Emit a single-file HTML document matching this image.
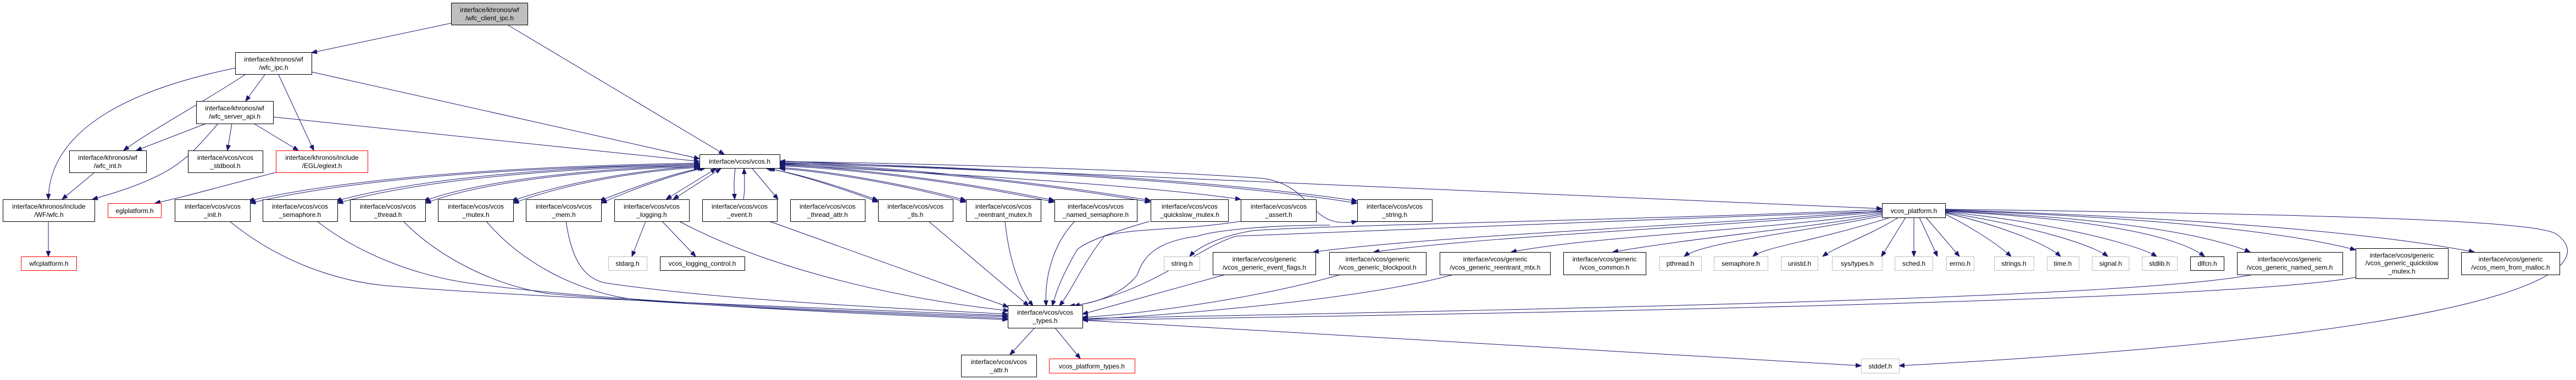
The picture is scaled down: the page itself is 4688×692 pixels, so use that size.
<!DOCTYPE html>
<html><head><meta charset="utf-8"><style>
html,body{margin:0;padding:0;background:#fff;}
svg{display:block;}
text{font-family:"Liberation Sans",sans-serif;font-size:12px;fill:#000;text-anchor:middle;}
.n{fill:#fff;stroke:#000;stroke-width:1;}
.g{fill:#fff;stroke:#bfbfbf;stroke-width:1;}
.r{fill:#fff;stroke:#ff0000;stroke-width:1;}
.e{fill:none;stroke:#191970;stroke-width:1;marker-end:url(#a);}
.d{fill:none;stroke:#191970;stroke-width:1;marker-end:url(#a);marker-start:url(#b);}
</style></head><body>
<svg width="4688" height="692" viewBox="0 0 4688 692" xmlns="http://www.w3.org/2000/svg">
<defs>
<marker id="a" markerWidth="11" markerHeight="8" refX="10" refY="4" orient="auto" markerUnits="userSpaceOnUse"><path d="M0,0 L10,4 L0,8 z" fill="#191970" stroke="#191970"/></marker>
<marker id="b" markerWidth="11" markerHeight="8" refX="0" refY="4" orient="auto" markerUnits="userSpaceOnUse"><path d="M10,0 L0,4 L10,8 z" fill="#191970" stroke="#191970"/></marker>
</defs>

<!-- edges top -->
<path class="e" d="M822,42 L567,96"/>
<path class="e" d="M925,46 L1318,281"/>
<path class="e" d="M428,124 C250,160 90,230 88,363"/>
<path class="e" d="M446,136 C380,180 270,240 225,274"/>
<path class="e" d="M482,136 L447,184"/>
<path class="e" d="M507,136 L571,274"/>
<path class="e" d="M567,131 L1273,289"/>
<path class="e" d="M375,225 L248,274"/>
<path class="e" d="M397,225 C340,290 320,320 168,363"/>
<path class="e" d="M422,225 L414,274"/>
<path class="e" d="M462,225 L543,274"/>
<path class="e" d="M497,213 L1273,294"/>
<path class="e" d="M172,314 L113,363"/>
<path class="e" d="M88,403 L88,467"/>
<path class="e" d="M502,314 C400,340 330,360 282,370"/>

<!-- vcos.h <-> children -->
<path class="d" d="M452,366 C700,310 1100,300 1273,297"/>
<path class="d" d="M455,370 C700,312 1100,302 1273,299"/>
<path class="d" d="M611,366 C800,315 1100,302 1273,299"/>
<path class="d" d="M614,370 C800,318 1100,304 1273,301"/>
<path class="d" d="M771,366 C900,320 1150,304 1273,301"/>
<path class="d" d="M774,370 C900,322 1150,306 1273,303"/>
<path class="d" d="M931,366 C1050,325 1200,306 1273,303"/>
<path class="d" d="M934,370 C1050,327 1200,308 1273,305"/>
<path class="d" d="M1091,366 C1180,330 1250,310 1280,306"/>
<path class="d" d="M1094,370 C1180,332 1250,312 1284,306"/>
<path class="d" d="M1212,363 L1303,307"/>
<path class="d" d="M1225,363 L1312,307"/>
<path class="e" d="M1338,307 C1335,330 1336,345 1337,363"/>
<path class="e" d="M1353,363 C1356,345 1355,330 1354,307"/>
<path class="e" d="M1369,307 L1416,363"/>
<path class="d" d="M1598,365 C1530,340 1450,315 1395,307"/>
<path class="d" d="M1598,368 C1530,342 1450,317 1400,307"/>
<path class="d" d="M1758,365 C1650,335 1500,310 1419,305"/>
<path class="d" d="M1758,368 C1650,337 1500,312 1419,307"/>
<path class="d" d="M1919,365 C1750,330 1550,305 1419,300"/>
<path class="d" d="M1919,368 C1750,332 1550,307 1419,302"/>
<path class="d" d="M2094,365 C1850,325 1600,302 1419,297"/>
<path class="d" d="M2094,368 C1850,327 1600,304 1419,299"/>
<path class="e" d="M1419,300 C1800,320 2100,340 2258,363"/>
<path class="d" d="M2470,366 C2200,325 1700,300 1419,296"/>
<path class="d" d="M2470,370 C2200,327 1700,302 1419,298"/>
<path class="d" d="M2470,403 C2380,420 2395,340 2300,325 C2100,310 1700,298 1419,294"/>
<path class="e" d="M1419,293 L3425,380"/>

<!-- children -> types -->
<path class="e" d="M418,403 C500,470 600,510 700,520 C1000,545 1500,560 1834,575"/>
<path class="e" d="M577,403 C650,460 750,500 850,515 C1100,550 1500,565 1834,577"/>
<path class="e" d="M734,403 C800,470 900,520 1000,535 C1300,560 1600,570 1834,580"/>
<path class="e" d="M885,403 C950,480 1050,530 1150,545 C1400,565 1650,575 1834,582"/>
<path class="e" d="M1030,403 C1040,470 1060,505 1100,515 C1300,545 1600,560 1834,572"/>
<path class="e" d="M1236,403 C1380,480 1600,540 1836,566"/>
<path class="e" d="M1400,403 L1835,559"/>
<path class="e" d="M1690,403 L1872,557"/>
<path class="e" d="M1829,403 C1835,460 1850,520 1880,557"/>
<path class="e" d="M1956,403 C1920,440 1900,500 1904,557"/>
<path class="e" d="M2092,403 C2000,430 1970,445 1960,455 C1940,490 1925,520 1915,557"/>
<path class="e" d="M2258,403 C2150,420 2060,415 2010,430 C1970,480 1950,530 1928,557"/>
<path class="e" d="M2420,410 C2300,410 2210,420 2180,430 C2100,440 2080,470 2070,500 C2040,540 1980,555 1946,557"/>
<path class="e" d="M3425,385 C3000,400 2450,420 2250,430 C2180,450 2100,530 1955,557"/>

<path class="e" d="M1175,403 L1150,467"/>
<path class="e" d="M1205,403 L1266,467"/>
<path class="e" d="M1883,597 L1838,646"/>
<path class="e" d="M1920,597 L1966,653"/>
<path class="e" d="M1970,583 L3387,666"/>

<!-- vcos_platform -> children -->
<path class="e" d="M3425,382 C3000,400 2400,410 2280,420 C2220,430 2180,450 2165,467"/>
<path class="e" d="M3425,384 C3100,410 2600,430 2390,459"/>
<path class="e" d="M3425,386 C3100,415 2700,430 2500,459"/>
<path class="e" d="M3425,388 C3200,420 2900,430 2750,459"/>
<path class="e" d="M3425,390 C3300,415 3100,430 2935,459"/>
<path class="e" d="M3430,392 C3300,420 3100,440 3065,467"/>
<path class="e" d="M3440,396 C3300,440 3210,450 3190,467"/>
<path class="e" d="M3455,396 C3400,430 3340,450 3317,467"/>
<path class="e" d="M3468,396 L3424,467"/>
<path class="e" d="M3483,396 L3483,467"/>
<path class="e" d="M3493,396 L3526,467"/>
<path class="e" d="M3505,396 L3566,467"/>
<path class="e" d="M3540,390 C3580,410 3630,440 3660,467"/>
<path class="e" d="M3540,388 C3620,405 3720,440 3750,467"/>
<path class="e" d="M3540,387 C3660,405 3800,440 3836,467"/>
<path class="e" d="M3540,386 C3700,400 3880,440 3925,467"/>
<path class="e" d="M3540,385 C3750,395 3950,420 4012,467"/>
<path class="e" d="M3540,384 C3800,395 4000,420 4095,459"/>
<path class="e" d="M3540,383 C3900,395 4150,420 4287,455"/>
<path class="e" d="M3540,382 C3950,395 4300,420 4503,459"/>
<path class="e" d="M3540,381 C4200,390 4600,400 4650,425 C4720,470 4700,600 3456,666"/>

<!-- generic -> types -->
<path class="e" d="M2230,500 L1970,572"/>
<path class="e" d="M2440,500 C2300,540 2100,570 1970,578"/>
<path class="e" d="M2645,500 C2500,540 2200,570 1970,582"/>
<path class="e" d="M4100,500 C3900,540 3000,560 1970,580"/>
<path class="e" d="M4287,505 C4100,540 3200,565 1970,583"/>

<!-- nodes -->
<rect class="n" x="821.5" y="5.5" width="139" height="40" style="fill:#bfbfbf"/>
<text x="891" y="22">interface/khronos/wf</text><text x="891" y="37">/wfc_client_ipc.h</text>
<rect class="n" x="428.5" y="95.5" width="139" height="40"/>
<text x="498" y="112">interface/khronos/wf</text><text x="498" y="127">/wfc_ipc.h</text>
<rect class="n" x="357.5" y="184.5" width="140" height="41"/>
<text x="427" y="201">interface/khronos/wf</text><text x="427" y="216">/wfc_server_api.h</text>
<rect class="n" x="126.5" y="274.5" width="140" height="40"/>
<text x="196" y="291">interface/khronos/wf</text><text x="196" y="306">/wfc_int.h</text>
<rect class="n" x="342.5" y="274.5" width="136" height="40"/>
<text x="410" y="291">interface/vcos/vcos</text><text x="410" y="306">_stdbool.h</text>
<rect class="r" x="502.5" y="274.5" width="167" height="40"/>
<text x="586" y="291">interface/khronos/include</text><text x="586" y="306">/EGL/eglext.h</text>
<rect class="n" x="5.5" y="363.5" width="167" height="40"/>
<text x="89" y="380">interface/khronos/include</text><text x="89" y="395">/WF/wfc.h</text>
<rect class="r" x="196.5" y="370.5" width="97" height="26"/>
<text x="245" y="388">eglplatform.h</text>
<rect class="r" x="38.5" y="467.5" width="101" height="25"/>
<text x="89" y="484">wfcplatform.h</text>

<rect class="n" x="1273.5" y="281.5" width="146" height="25"/>
<text x="1346" y="298">interface/vcos/vcos.h</text>

<rect class="n" x="318.5" y="363.5" width="137" height="40"/><text x="387" y="380">interface/vcos/vcos</text><text x="387" y="395">_init.h</text>
<rect class="n" x="478.5" y="363.5" width="136" height="40"/><text x="546" y="380">interface/vcos/vcos</text><text x="546" y="395">_semaphore.h</text>
<rect class="n" x="637.5" y="363.5" width="137" height="40"/><text x="706" y="380">interface/vcos/vcos</text><text x="706" y="395">_thread.h</text>
<rect class="n" x="797.5" y="363.5" width="137" height="40"/><text x="866" y="380">interface/vcos/vcos</text><text x="866" y="395">_mutex.h</text>
<rect class="n" x="957.5" y="363.5" width="137" height="40"/><text x="1026" y="380">interface/vcos/vcos</text><text x="1026" y="395">_mem.h</text>
<rect class="n" x="1118.5" y="363.5" width="136" height="40"/><text x="1186" y="380">interface/vcos/vcos</text><text x="1186" y="395">_logging.h</text>
<rect class="n" x="1278.5" y="363.5" width="136" height="40"/><text x="1346" y="380">interface/vcos/vcos</text><text x="1346" y="395">_event.h</text>
<rect class="n" x="1438.5" y="363.5" width="136" height="40"/><text x="1506" y="380">interface/vcos/vcos</text><text x="1506" y="395">_thread_attr.h</text>
<rect class="n" x="1598.5" y="363.5" width="136" height="40"/><text x="1666" y="380">interface/vcos/vcos</text><text x="1666" y="395">_tls.h</text>
<rect class="n" x="1758.5" y="363.5" width="136" height="40"/><text x="1826" y="380">interface/vcos/vcos</text><text x="1826" y="395">_reentrant_mutex.h</text>
<rect class="n" x="1919.5" y="363.5" width="150" height="40"/><text x="1994" y="380">interface/vcos/vcos</text><text x="1994" y="395">_named_semaphore.h</text>
<rect class="n" x="2094.5" y="363.5" width="141" height="40"/><text x="2165" y="380">interface/vcos/vcos</text><text x="2165" y="395">_quickslow_mutex.h</text>
<rect class="n" x="2258.5" y="363.5" width="137" height="40"/><text x="2327" y="380">interface/vcos/vcos</text><text x="2327" y="395">_assert.h</text>
<rect class="n" x="2470.5" y="363.5" width="136" height="40"/><text x="2538" y="380">interface/vcos/vcos</text><text x="2538" y="395">_string.h</text>

<rect class="g" x="1107.5" y="467.5" width="70" height="25"/><text x="1142" y="484">stdarg.h</text>
<rect class="n" x="1201.5" y="467.5" width="154" height="25"/><text x="1278" y="484">vcos_logging_control.h</text>

<rect class="n" x="1834.5" y="556.5" width="136" height="41"/><text x="1902" y="573">interface/vcos/vcos</text><text x="1902" y="588">_types.h</text>
<rect class="n" x="1749.5" y="646.5" width="137" height="40"/><text x="1818" y="663">interface/vcos/vcos</text><text x="1818" y="678">_attr.h</text>
<rect class="r" x="1909.5" y="653.5" width="156" height="26"/><text x="1987" y="671">vcos_platform_types.h</text>
<rect class="g" x="3387.5" y="653.5" width="69" height="26"/><text x="3422" y="671">stddef.h</text>

<rect class="n" x="3425.5" y="370.5" width="115" height="26"/><text x="3483" y="388">vcos_platform.h</text>

<rect class="g" x="2118.5" y="467.5" width="65" height="25"/><text x="2151" y="484">string.h</text>
<rect class="n" x="2207.5" y="459.5" width="187" height="41"/><text x="2301" y="476">interface/vcos/generic</text><text x="2301" y="491">/vcos_generic_event_flags.h</text>
<rect class="n" x="2419.5" y="459.5" width="176" height="41"/><text x="2507" y="476">interface/vcos/generic</text><text x="2507" y="491">/vcos_generic_blockpool.h</text>
<rect class="n" x="2620.5" y="459.5" width="201" height="41"/><text x="2721" y="476">interface/vcos/generic</text><text x="2721" y="491">/vcos_generic_reentrant_mtx.h</text>
<rect class="n" x="2845.5" y="459.5" width="150" height="41"/><text x="2920" y="476">interface/vcos/generic</text><text x="2920" y="491">/vcos_common.h</text>
<rect class="g" x="3020.5" y="467.5" width="76" height="25"/><text x="3058" y="484">pthread.h</text>
<rect class="g" x="3119.5" y="467.5" width="98" height="25"/><text x="3168" y="484">semaphore.h</text>
<rect class="g" x="3241.5" y="467.5" width="67" height="25"/><text x="3275" y="484">unistd.h</text>
<rect class="g" x="3334.5" y="467.5" width="91" height="25"/><text x="3380" y="484">sys/types.h</text>
<rect class="g" x="3448.5" y="467.5" width="69" height="25"/><text x="3483" y="484">sched.h</text>
<rect class="g" x="3542.5" y="467.5" width="50" height="25"/><text x="3567" y="484">errno.h</text>
<rect class="g" x="3629.5" y="467.5" width="72" height="25"/><text x="3665" y="484">strings.h</text>
<rect class="g" x="3725.5" y="467.5" width="58" height="25"/><text x="3754" y="484">time.h</text>
<rect class="g" x="3807.5" y="467.5" width="67" height="25"/><text x="3841" y="484">signal.h</text>
<rect class="g" x="3898.5" y="467.5" width="64" height="25"/><text x="3930" y="484">stdlib.h</text>
<rect class="n" x="3986.5" y="467.5" width="61" height="25"/><text x="4017" y="484">dlfcn.h</text>
<rect class="n" x="4071.5" y="459.5" width="192" height="41"/><text x="4167" y="476">interface/vcos/generic</text><text x="4167" y="491">/vcos_generic_named_sem.h</text>
<rect class="n" x="4287.5" y="452.5" width="168" height="55"/><text x="4371" y="469">interface/vcos/generic</text><text x="4371" y="483">/vcos_generic_quickslow</text><text x="4371" y="498">_mutex.h</text>
<rect class="n" x="4479.5" y="459.5" width="179" height="41"/><text x="4569" y="476">interface/vcos/generic</text><text x="4569" y="491">/vcos_mem_from_malloc.h</text>
</svg>
</body></html>
